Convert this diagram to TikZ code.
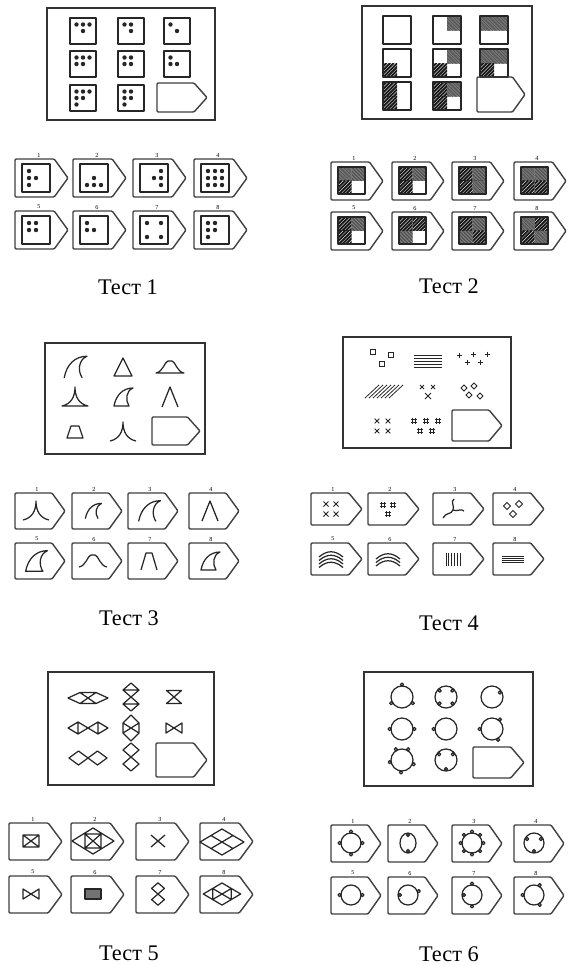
\documentclass[tikz,border=0pt]{standalone}
\usepackage{fontspec}
\setmainfont{Liberation Serif}
\usetikzlibrary{positioning}

\tikzset{
  testframe/.style={line width=0.9pt,black!80},
  cardline/.style={line width=0.8pt,black!75,line join=round,rounded corners=0.6pt},
  fig/.style={line width=0.7pt,black!85,line join=round},
  thinfig/.style={line width=0.45pt,black!85},
  num/.style={font=\fontsize{3.5}{4}\selectfont,inner sep=0pt},
  capt/.style={font=\fontsize{12.7}{14}\selectfont,inner sep=0pt},
  % test 3 figures
  finO/.pic={\draw[fig] (-9,9) .. controls (-7,-2) and (0,-9) .. (10,-9) .. controls (3,-6) and (2,3) .. (6,9);},
  finC/.pic={\draw[fig] (-9,9) .. controls (-7,-2) and (0,-9) .. (10,-9) .. controls (3,-6) and (2,3) .. (6,9) -- cycle;},
  tri/.pic={\draw[fig] (-9,9) -- (0,-9) -- (9,9) -- cycle;},
  lam/.pic={\draw[fig] (-8,10) -- (0,-10) -- (8,10);},
  bellC/.pic={\draw[fig] (-14,6) .. controls (-7,5) and (-5,-6) .. (-2,-6) -- (2,-6) .. controls (5,-6) and (7,5) .. (14,6) -- cycle;},
  bellO/.pic={\draw[fig] (-14,6) .. controls (-7,5) and (-5,-6) .. (-2,-6) -- (2,-6) .. controls (5,-6) and (7,5) .. (14,6);},
  cuspC/.pic={\draw[fig] (-13,9) .. controls (-4,7) and (0,0) .. (0,-10) .. controls (0,0) and (4,7) .. (13,9) -- cycle;},
  cuspO/.pic={\draw[fig] (-13,9) .. controls (-4,7) and (0,0) .. (0,-10) .. controls (0,0) and (4,7) .. (13,9);},
  trapC/.pic={\draw[fig] (-8,6) -- (-4,-6) -- (4,-6) -- (8,6) -- cycle;},
  trapO/.pic={\draw[fig] (-8,9) -- (-3,-8) -- (3,-8) -- (8,9);},
  % test 5 figures
  hexH/.pic={\draw[fig] (-20,0) -- (-8,-5.5) -- (8,-5.5) -- (20,0) -- (8,5.5) -- (-8,5.5) -- cycle (-8,-5.5) -- (8,5.5) (8,-5.5) -- (-8,5.5);},
  hexV/.pic={\draw[fig] (0,-13) -- (8,-5) -- (8,5) -- (0,13) -- (-8,5) -- (-8,-5) -- cycle (-8,-5) -- (8,5) (8,-5) -- (-8,5);},
  dmV/.pic={\draw[fig] (0,-14) -- (8,-7) -- (0,0) -- (-8,-7) -- cycle (0,0) -- (8,7) -- (0,14) -- (-8,7) -- cycle;},
  dmVl/.pic={\draw[fig] (0,-14) -- (8,-7) -- (0,0) -- (-8,-7) -- cycle (0,0) -- (8,7) -- (0,14) -- (-8,7) -- cycle (-8,-7) -- (8,-7) (-8,7) -- (8,7);},
  dmH/.pic={\draw[fig] (-19,0) -- (-9.5,-7) -- (0,0) -- (-9.5,7) -- cycle (0,0) -- (9.5,-7) -- (19,0) -- (9.5,7) -- cycle;},
  dmHl/.pic={\draw[fig] (-20,0) -- (-10,-6) -- (0,0) -- (-10,6) -- cycle (0,0) -- (10,-6) -- (20,0) -- (10,6) -- cycle (-10,-6) -- (-10,6) (10,-6) -- (10,6);},
  hglass/.pic={\draw[fig] (-7.5,-6.5) -- (7.5,-6.5) -- (-7.5,6.5) -- (7.5,6.5) -- cycle;},
  bowtie/.pic={\draw[fig] (-8,-5) -- (8,5) -- (8,-5) -- (-8,5) -- cycle;},
  dgrid/.pic={\draw[fig] (-22,0) -- (0,-13) -- (22,0) -- (0,13) -- cycle (-11,-6.5) -- (11,6.5) (11,-6.5) -- (-11,6.5);},
  dgridv/.pic={\draw[fig] (-22,0) -- (0,-13) -- (22,0) -- (0,13) -- cycle (-11,-6.5) -- (11,6.5) (11,-6.5) -- (-11,6.5) (-11,-6.5) -- (-11,6.5) (11,-6.5) -- (11,6.5);}
}

% answer card with pointed right side
\newcommand\card[4]{\draw[cardline] (#1,#2) -- ++({0.74*#3},0) -- ({#1+#3},{#2+#4/2}) -- ({#1+0.74*#3},{#2+#4}) -- (#1,{#2+#4}) -- cycle;}
% square with dots on a 3x3 grid
\newcommand\die[4]{\draw[fig] (#1,#2) rectangle ++(#3,#3);
  \foreach \u/\v in {#4} {\fill[black!85] ({#1+\u*#3/4},{#2+\v*#3/4}) circle (2.2);}}
% fine and coarse hatching of a quarter
\newcommand\hatchA[3]{\begin{scope}\clip (#1,#2) rectangle ++(#3,#3);
  \fill[black!30] (#1,#2) rectangle ++(#3,#3);
  \foreach \k in {-16,-14.6,...,16} {\draw[black!75,line width=0.3pt] ({#1+\k},#2) -- ++(16,16);}
  \end{scope}}
\newcommand\hatchB[3]{\begin{scope}\clip (#1,#2) rectangle ++(#3,#3);
  \foreach \k in {0,3.6,...,32} {\draw[black!90,line width=1.1pt] ({#1+\k},#2) -- ++(-16,16);}
  \end{scope}}
\newcommand\qcell[4]{\foreach \qa/\qb/\qt in {#4} {\csname hatch\qt\endcsname{#1+\qa*#3/2}{#2+\qb*#3/2}{#3/2}}
  \draw[fig] (#1,#2) rectangle ++(#3,#3);}
% small marks of test 4
\newcommand\xmk[3]{\draw[thinfig] (#1-#3,#2-#3) -- (#1+#3,#2+#3) (#1+#3,#2-#3) -- (#1-#3,#2+#3);}
\newcommand\hsh[2]{\draw[thinfig] (#1-3,#2-1.5) -- (#1+3,#2-1.5) (#1-3,#2+1.5) -- (#1+3,#2+1.5) (#1-1.5,#2-3) -- (#1-1.5,#2+3) (#1+1.5,#2-3) -- (#1+1.5,#2+3);}
\newcommand\dmd[3]{\draw[thinfig] (#1-#3,#2) -- (#1,#2-#3) -- (#1+#3,#2) -- (#1,#2+#3) -- cycle;}
\newcommand\plk[2]{\draw[thinfig] (#1-2.5,#2) -- (#1+2.5,#2) (#1,#2-2.5) -- (#1,#2+2.5);}
% circles with knobs of test 6
\newcommand\ring[4]{\draw[fig] (#1,#2) circle (#3);
  \foreach \a in {#4} {\draw[fig,fill=white] ([shift={({-\a}:{#3+1.4})}]#1,#2) circle (1.6);}}
\newcommand\knobin[4]{\foreach \a in {#4} {\draw[fig,fill=white] ([shift={({-\a}:{#3-2})}]#1,#2) circle (1.6);}}

\begin{document}
\begin{tikzpicture}[x=0.02cm,y=-0.02cm]
\useasboundingbox (0,0) rectangle (572,965);
\fill[white] (0,0) rectangle (572,965);

% ---------- Test 1
\draw[testframe] (47,8) rectangle (215,120);
\die{70}{18}{26}{1/1,2/1,3/1,2/2}
\die{118}{18}{26}{1/1,2/1,2/2}
\die{164}{18}{26}{1/1,2/2}
\die{70}{51}{26}{1/1,2/1,3/1,1/2,2/2}
\die{118}{51}{26}{1/1,2/1,1/2,2/2}
\die{164}{51}{26}{1/1,1/2,2/2}
\die{70}{85}{26}{1/1,2/1,3/1,1/2,2/2,1/3}
\die{118}{85}{26}{1/1,2/1,1/2,2/2,1/3}
\card{157}{83}{50}{29}
\foreach \n/\x/\y in {1/15/159,2/73/159,3/133/159,4/194/159,5/15/211,6/73/211,7/133/211,8/194/211}
  {\card{\x}{\y}{53}{38} \node[num] (a1-\n) at (\x+24,\y-4) {\n};}
\die{22}{164}{28}{1/1,1/2,2/2,1/3}
\die{80}{164}{28}{2/2,1/3,2/3,3/3}
\die{140}{164}{28}{3/1,3/2,3/3,2/2}
\die{201}{164}{28}{1/1,2/1,3/1,1/2,2/2,3/2,1/3,2/3,3/3}
\die{22}{216}{28}{1/1,2/1,1/2,2/2}
\die{80}{216}{28}{1/1,1/2,2/2}
\die{140}{216}{28}{1/1,3/1,1/3,3/3}
\die{201}{216}{28}{1/1,2/1,1/2,2/2,1/3}
\node[capt] (t1) at (128,287) {Тест 1};

% ---------- Test 2
\draw[testframe] (362,6) rectangle (532,119);
\draw[fig] (383,16) rectangle ++(28,28);
\qcell{433}{16}{28}{1/0/A}
\qcell{480}{16}{28}{0/0/A,1/0/A}
\qcell{383}{49}{28}{0/1/B}
\qcell{433}{49}{28}{1/0/A,0/1/B}
\qcell{480}{49}{28}{0/0/A,1/0/A,0/1/B}
\qcell{383}{82}{28}{0/0/B,0/1/B}
\qcell{433}{82}{28}{0/0/B,0/1/B,1/0/A}
\card{477}{77}{48}{35}
\foreach \n/\x/\y in {1/331/162,2/392/162,3/452/162,4/514/162,5/331/212,6/392/212,7/452/212,8/514/212}
  {\card{\x}{\y}{52}{38} \node[num] (a2-\n) at (\x+23,\y-4) {\n};}
\qcell{338}{167}{27}{0/0/A,1/0/A,0/1/B}
\qcell{399}{167}{27}{0/0/B,0/1/B,1/0/A}
\qcell{459}{167}{27}{0/0/B,0/1/B,1/0/A,1/1/A}
\qcell{521}{167}{27}{0/0/A,1/0/A,0/1/B,1/1/B}
\qcell{338}{217}{27}{0/0/B,0/1/B,1/0/A}
\qcell{399}{217}{27}{0/0/B,1/0/B,0/1/A}
\qcell{459}{217}{27}{0/0/B,1/0/A,0/1/A,1/1/B}
\qcell{521}{217}{27}{0/0/A,1/0/B,0/1/B,1/1/A}
\node[capt] (t2) at (449,286) {Тест 2};

% ---------- Test 3
\draw[testframe] (45,343) rectangle (205,454);
\pic[scale=1.2] at (75,367) {finO};
\pic at (123,367) {tri};
\pic at (170,367) {bellC};
\pic at (75,397) {cuspC};
\pic at (123,397) {finC};
\pic at (170,397) {lam};
\pic at (75,432) {trapC};
\pic at (123,432) {cuspO};
\card{152}{417}{48}{28}
\foreach \n/\x/\y in {1/15/493,2/72/493,3/128/493,4/189/493,5/15/543,6/72/543,7/128/543,8/189/543}
  {\card{\x}{\y}{50}{36} \node[num] (a3-\n) at (\x+22,\y-4) {\n};}
\pic at (36,511) {cuspO};
\pic[scale=0.85] at (93,511) {finO};
\pic[scale=1.15] at (149,511) {finO};
\pic at (210,511) {lam};
\pic[scale=1.15] at (36,561) {finC};
\pic at (93,561) {bellO};
\pic at (149,561) {trapO};
\pic at (210,561) {finC};
\node[capt] (t3) at (129,618) {Тест 3};

% ---------- Test 4
\draw[testframe] (343,337) rectangle (511,448);
\foreach \p/\q in {373/352,391/355,382/364} {\draw[thinfig] (\p-2.5,\q-2.5) rectangle ++(5,5);}
\foreach \k in {0,...,4} {\draw[thinfig] (414,355+3*\k) -- (442,355+3*\k);}
\foreach \p/\q in {459/355,473/354,487/354,467/362,480/362} {\plk{\p}{\q}}
\foreach \k in {0,...,6} {\draw[thinfig] (365+4*\k,398) -- (379+4*\k,385);}
\xmk{422}{387}{2}\xmk{433}{387}{2}\xmk{428}{396}{3}
\dmd{464}{388}{3}\dmd{474}{386}{3}\dmd{469}{395}{3}\dmd{480}{396}{3}
\foreach \p/\q in {377/421,388/421,377/431,388/431} {\xmk{\p}{\q}{2.3}}
\foreach \p/\q in {414/421,426/421,438/421,420/431,432/431} {\hsh{\p}{\q}}
\card{452}{410}{50}{31}
\foreach \n/\x/\y in {1/311/493,2/368/493,3/433/493,4/493/493,5/311/543,6/368/543,7/433/543,8/493/543}
  {\card{\x}{\y}{51}{32} \node[num] (a4-\n) at (\x+22,\y-4) {\n};}
\foreach \p/\q in {326/504,336/504,326/514,336/514} {\xmk{\p}{\q}{2.5}}
\hsh{383}{505}\hsh{393}{505}\hsh{388}{514}
\draw[fig] (443,518) .. controls (446,512) and (451,515) .. (453,510) .. controls (455,506) and (450,502) .. (454,499);
\draw[fig] (453,510) .. controls (457,512) and (461,508) .. (464,511);
\dmd{507}{506}{3.5}\dmd{519}{504}{3.5}\dmd{513}{514}{3.5}
\foreach \k in {0,...,3} {\draw[fig] (319,557+3.5*\k) .. controls (327,550+3.5*\k) and (335,550+3.5*\k) .. (343,557+3.5*\k);}
\foreach \k in {0,...,2} {\draw[fig] (376,559+3.5*\k) .. controls (384,552+3.5*\k) and (392,552+3.5*\k) .. (400,559+3.5*\k);}
\foreach \k in {0,...,5} {\draw[thinfig] (446+2.8*\k,553) -- (446+2.8*\k,566);}
\foreach \k in {0,...,3} {\draw[thinfig] (502,556+2*\k) -- (524,556+2*\k);}
\node[capt] (t4) at (449,623) {Тест 4};

% ---------- Test 5
\draw[testframe] (48,672) rectangle (214,785);
\pic at (88,698) {hexH};
\pic at (131,697) {dmVl};
\pic at (174,697) {hglass};
\pic at (88,728) {dmHl};
\pic at (131,728) {hexV};
\pic at (174,728) {bowtie};
\pic at (88,758) {dmH};
\pic at (131,757) {dmV};
\card{156}{743}{51}{34}
\foreach \n/\x/\y in {1/9/823,2/71/823,3/136/823,4/200/823,5/9/876,6/71/876,7/136/876,8/200/876}
  {\card{\x}{\y}{53}{37} \node[num] (a5-\n) at (\x+24,\y-4) {\n};}
\draw[fig] (23,835) rectangle (39,847) (23,835) -- (39,847) (39,835) -- (23,847);
\draw[fig] (72,841) -- (93,828) -- (114,841) -- (93,854) -- cycle (85,834) rectangle (101,848) (85,834) -- (101,848) (101,834) -- (85,848);
\draw[fig] (151,835) -- (165,847) (165,835) -- (151,847);
\pic at (222,842) {dgrid};
\pic at (31,894) {bowtie};
\draw[fig,fill=black!55] (85,889) rectangle (101,899);
\pic[scale=0.8] at (158,894) {dmV};
\pic[scale=0.85] at (222,894) {dgridv};
\node[capt] (t5) at (129,953) {Тест 5};

% ---------- Test 6
\draw[testframe] (364,672) rectangle (533,786);
\ring{402}{697}{11}{90,210,330}
\draw[fig] (446,697) circle (11); \knobin{446}{697}{11}{45,135,225,315}
\draw[fig] (492,697) circle (11); \knobin{492}{697}{11}{30}
\ring{402}{729}{11}{0,180}
\ring{446}{729}{11}{180}
\ring{492}{729}{11}{180,50,-60}
\ring{402}{760}{11}{60,120,190,265,340}
\draw[fig] (446,760) circle (11); \knobin{446}{760}{11}{140,40,270}
\card{473}{747}{51}{31}
\foreach \n/\x/\y in {1/331/825,2/388/825,3/452/825,4/514/825,5/331/877,6/388/877,7/452/877,8/514/877}
  {\card{\x}{\y}{50}{37} \node[num] (a6-\n) at (\x+22,\y-4) {\n};}
\ring{351}{843}{10}{0,90,180,270}
\draw[fig] (408,843) ellipse (8 and 10); \knobin{408}{843}{10}{90,270}
\ring{472}{843}{10}{0,45,90,135,180,225,270,315}
\draw[fig] (534,843) circle (10); \knobin{534}{843}{10}{150,30,270}
\ring{351}{895}{10}{0,180}
\ring{408}{895}{10}{20}\knobin{408}{895}{10}{180}
\ring{472}{895}{10}{90,270}\knobin{472}{895}{10}{180}
\ring{534}{895}{10}{60,180,300}
\node[capt] (t6) at (449,954) {Тест 6};
\end{tikzpicture}
\end{document}
